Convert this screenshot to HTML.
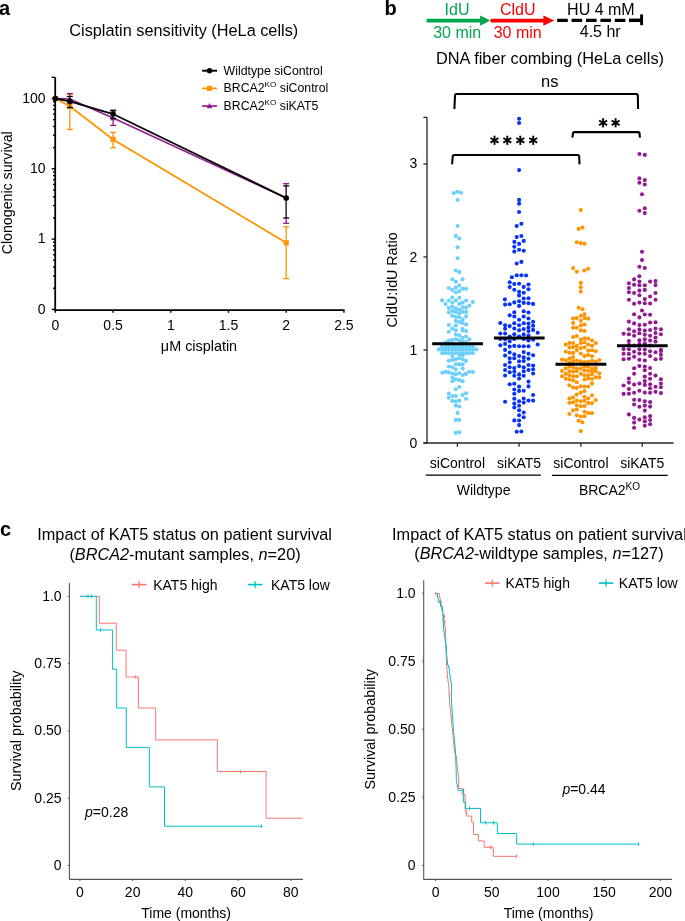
<!DOCTYPE html>
<html><head><meta charset="utf-8"><style>
html,body{margin:0;padding:0;background:#fff;}
svg{display:block;will-change:transform;}
text{font-family:"Liberation Sans",sans-serif;}
</style></head><body>
<svg width="685" height="921" viewBox="0 0 685 921" font-family="Liberation Sans">
<text x="-1.00" y="14.90" font-size="20" text-anchor="start" fill="#000" font-weight="bold" >a</text>
<text x="183.75" y="36.30" font-size="16.3" text-anchor="middle" fill="#000" >Cisplatin sensitivity (HeLa cells)</text>
<line x1="55.20" y1="77.30" x2="55.20" y2="311.10" stroke="#000" stroke-width="1.8" />
<line x1="51.70" y1="77.34" x2="55.20" y2="77.34" stroke="#000" stroke-width="1.4" />
<line x1="51.70" y1="98.50" x2="55.20" y2="98.50" stroke="#000" stroke-width="1.4" />
<line x1="51.70" y1="168.80" x2="55.20" y2="168.80" stroke="#000" stroke-width="1.4" />
<line x1="51.70" y1="239.10" x2="55.20" y2="239.10" stroke="#000" stroke-width="1.4" />
<line x1="51.70" y1="309.40" x2="55.20" y2="309.40" stroke="#000" stroke-width="1.4" />
<line x1="53.00" y1="147.64" x2="55.20" y2="147.64" stroke="#000" stroke-width="1.4" />
<line x1="53.00" y1="135.26" x2="55.20" y2="135.26" stroke="#000" stroke-width="1.4" />
<line x1="53.00" y1="126.48" x2="55.20" y2="126.48" stroke="#000" stroke-width="1.4" />
<line x1="53.00" y1="119.66" x2="55.20" y2="119.66" stroke="#000" stroke-width="1.4" />
<line x1="53.00" y1="114.10" x2="55.20" y2="114.10" stroke="#000" stroke-width="1.4" />
<line x1="53.00" y1="109.39" x2="55.20" y2="109.39" stroke="#000" stroke-width="1.4" />
<line x1="53.00" y1="105.31" x2="55.20" y2="105.31" stroke="#000" stroke-width="1.4" />
<line x1="53.00" y1="101.72" x2="55.20" y2="101.72" stroke="#000" stroke-width="1.4" />
<line x1="53.00" y1="217.94" x2="55.20" y2="217.94" stroke="#000" stroke-width="1.4" />
<line x1="53.00" y1="205.56" x2="55.20" y2="205.56" stroke="#000" stroke-width="1.4" />
<line x1="53.00" y1="196.78" x2="55.20" y2="196.78" stroke="#000" stroke-width="1.4" />
<line x1="53.00" y1="189.96" x2="55.20" y2="189.96" stroke="#000" stroke-width="1.4" />
<line x1="53.00" y1="184.40" x2="55.20" y2="184.40" stroke="#000" stroke-width="1.4" />
<line x1="53.00" y1="179.69" x2="55.20" y2="179.69" stroke="#000" stroke-width="1.4" />
<line x1="53.00" y1="175.61" x2="55.20" y2="175.61" stroke="#000" stroke-width="1.4" />
<line x1="53.00" y1="172.02" x2="55.20" y2="172.02" stroke="#000" stroke-width="1.4" />
<line x1="53.00" y1="288.24" x2="55.20" y2="288.24" stroke="#000" stroke-width="1.4" />
<line x1="53.00" y1="275.86" x2="55.20" y2="275.86" stroke="#000" stroke-width="1.4" />
<line x1="53.00" y1="267.08" x2="55.20" y2="267.08" stroke="#000" stroke-width="1.4" />
<line x1="53.00" y1="260.26" x2="55.20" y2="260.26" stroke="#000" stroke-width="1.4" />
<line x1="53.00" y1="254.70" x2="55.20" y2="254.70" stroke="#000" stroke-width="1.4" />
<line x1="53.00" y1="249.99" x2="55.20" y2="249.99" stroke="#000" stroke-width="1.4" />
<line x1="53.00" y1="245.91" x2="55.20" y2="245.91" stroke="#000" stroke-width="1.4" />
<line x1="53.00" y1="242.32" x2="55.20" y2="242.32" stroke="#000" stroke-width="1.4" />
<text x="45.60" y="102.80" font-size="14" text-anchor="end" fill="#000" >100</text>
<text x="45.60" y="173.10" font-size="14" text-anchor="end" fill="#000" >10</text>
<text x="45.60" y="243.40" font-size="14" text-anchor="end" fill="#000" >1</text>
<text x="45.60" y="313.70" font-size="14" text-anchor="end" fill="#000" >0</text>
<line x1="54.30" y1="310.20" x2="344.60" y2="310.20" stroke="#000" stroke-width="1.8" />
<line x1="55.40" y1="310.20" x2="55.40" y2="312.80" stroke="#000" stroke-width="1.4" />
<text x="55.40" y="329.60" font-size="14" text-anchor="middle" fill="#000" >0</text>
<line x1="113.10" y1="310.20" x2="113.10" y2="312.80" stroke="#000" stroke-width="1.4" />
<text x="113.10" y="329.60" font-size="14" text-anchor="middle" fill="#000" >0.5</text>
<line x1="170.80" y1="310.20" x2="170.80" y2="312.80" stroke="#000" stroke-width="1.4" />
<text x="170.80" y="329.60" font-size="14" text-anchor="middle" fill="#000" >1</text>
<line x1="228.50" y1="310.20" x2="228.50" y2="312.80" stroke="#000" stroke-width="1.4" />
<text x="228.50" y="329.60" font-size="14" text-anchor="middle" fill="#000" >1.5</text>
<line x1="286.20" y1="310.20" x2="286.20" y2="312.80" stroke="#000" stroke-width="1.4" />
<text x="286.20" y="329.60" font-size="14" text-anchor="middle" fill="#000" >2</text>
<line x1="343.90" y1="310.20" x2="343.90" y2="312.80" stroke="#000" stroke-width="1.4" />
<text x="343.90" y="329.60" font-size="14" text-anchor="middle" fill="#000" >2.5</text>
<text x="199.00" y="350.50" font-size="14.4" text-anchor="middle" fill="#000" >μM cisplatin</text>
<text transform="translate(12,192.8) rotate(-90)" font-size="14.2" text-anchor="middle">Clonogenic survival</text>
<line x1="69.83" y1="94.40" x2="69.83" y2="129.40" stroke="#ff9300" stroke-width="1.3" />
<line x1="66.83" y1="94.40" x2="72.83" y2="94.40" stroke="#ff9300" stroke-width="1.3" />
<line x1="66.83" y1="129.40" x2="72.83" y2="129.40" stroke="#ff9300" stroke-width="1.3" />
<line x1="113.10" y1="132.40" x2="113.10" y2="147.70" stroke="#ff9300" stroke-width="1.3" />
<line x1="110.10" y1="132.40" x2="116.10" y2="132.40" stroke="#ff9300" stroke-width="1.3" />
<line x1="110.10" y1="147.70" x2="116.10" y2="147.70" stroke="#ff9300" stroke-width="1.3" />
<line x1="286.20" y1="226.80" x2="286.20" y2="278.60" stroke="#ff9300" stroke-width="1.3" />
<line x1="283.20" y1="226.80" x2="289.20" y2="226.80" stroke="#ff9300" stroke-width="1.3" />
<line x1="283.20" y1="278.60" x2="289.20" y2="278.60" stroke="#ff9300" stroke-width="1.3" />
<path d="M55.40,98.50 L69.83,106.20 L113.10,139.40 L286.20,242.80" stroke="#ff9300" stroke-width="1.75" fill="none" />
<rect x="52.80" y="95.90" width="5.2" height="5.2" fill="#ff9300"/>
<rect x="67.23" y="103.60" width="5.2" height="5.2" fill="#ff9300"/>
<rect x="110.50" y="136.80" width="5.2" height="5.2" fill="#ff9300"/>
<rect x="283.60" y="240.20" width="5.2" height="5.2" fill="#ff9300"/>
<line x1="69.83" y1="93.50" x2="69.83" y2="103.00" stroke="#941a94" stroke-width="1.3" />
<line x1="66.83" y1="93.50" x2="72.83" y2="93.50" stroke="#941a94" stroke-width="1.3" />
<line x1="66.83" y1="103.00" x2="72.83" y2="103.00" stroke="#941a94" stroke-width="1.3" />
<line x1="113.10" y1="111.00" x2="113.10" y2="125.40" stroke="#941a94" stroke-width="1.3" />
<line x1="110.10" y1="111.00" x2="116.10" y2="111.00" stroke="#941a94" stroke-width="1.3" />
<line x1="110.10" y1="125.40" x2="116.10" y2="125.40" stroke="#941a94" stroke-width="1.3" />
<line x1="286.20" y1="183.60" x2="286.20" y2="223.30" stroke="#941a94" stroke-width="1.3" />
<line x1="283.20" y1="183.60" x2="289.20" y2="183.60" stroke="#941a94" stroke-width="1.3" />
<line x1="283.20" y1="223.30" x2="289.20" y2="223.30" stroke="#941a94" stroke-width="1.3" />
<path d="M55.40,98.50 L69.83,99.00 L113.10,118.00 L286.20,198.00" stroke="#941a94" stroke-width="1.6" fill="none" />
<path d="M55.40,95.50 L58.20,100.70 L52.60,100.70Z" fill="#941a94"/>
<path d="M69.83,96.00 L72.62,101.20 L67.03,101.20Z" fill="#941a94"/>
<path d="M113.10,115.00 L115.90,120.20 L110.30,120.20Z" fill="#941a94"/>
<path d="M286.20,195.00 L289.00,200.20 L283.40,200.20Z" fill="#941a94"/>
<line x1="69.83" y1="96.50" x2="69.83" y2="107.60" stroke="#3a3a3a" stroke-width="1.3" />
<line x1="66.83" y1="96.50" x2="72.83" y2="96.50" stroke="#000" stroke-width="1.3" />
<line x1="66.83" y1="107.60" x2="72.83" y2="107.60" stroke="#000" stroke-width="1.3" />
<line x1="113.10" y1="110.20" x2="113.10" y2="118.40" stroke="#3a3a3a" stroke-width="1.3" />
<line x1="110.10" y1="110.20" x2="116.10" y2="110.20" stroke="#000" stroke-width="1.3" />
<line x1="110.10" y1="118.40" x2="116.10" y2="118.40" stroke="#000" stroke-width="1.3" />
<line x1="286.20" y1="185.90" x2="286.20" y2="218.00" stroke="#3a3a3a" stroke-width="1.3" />
<line x1="283.20" y1="185.90" x2="289.20" y2="185.90" stroke="#000" stroke-width="1.3" />
<line x1="283.20" y1="218.00" x2="289.20" y2="218.00" stroke="#000" stroke-width="1.3" />
<path d="M55.40,98.50 L69.83,101.30 L113.10,114.00 L286.20,198.00" stroke="#000" stroke-width="1.85" fill="none" />
<circle cx="55.40" cy="98.50" r="2.75" fill="#000"/>
<circle cx="69.83" cy="101.30" r="2.75" fill="#000"/>
<circle cx="113.10" cy="114.00" r="2.75" fill="#000"/>
<circle cx="286.20" cy="198.00" r="2.75" fill="#000"/>
<line x1="202.10" y1="70.70" x2="217.00" y2="70.70" stroke="#000" stroke-width="2" />
<circle cx="209.50" cy="70.70" r="2.75" fill="#000"/>
<text x="223.60" y="74.60" font-size="12.3" text-anchor="start" fill="#000" >Wildtype siControl</text>
<line x1="202.10" y1="88.35" x2="217.00" y2="88.35" stroke="#ff9300" stroke-width="1.7" />
<rect x="206.90" y="85.75" width="5.2" height="5.2" fill="#ff9300"/>
<text x="223.60" y="92.25" font-size="12.3" text-anchor="start" fill="#000" >BRCA2<tspan font-size="8.1" dy="-4.8">KO</tspan><tspan dy="4.8"> siControl</tspan></text>
<line x1="202.10" y1="106.00" x2="217.00" y2="106.00" stroke="#941a94" stroke-width="1.7" />
<path d="M209.50,103.00 L212.30,108.20 L206.70,108.20Z" fill="#941a94"/>
<text x="223.60" y="109.90" font-size="12.3" text-anchor="start" fill="#000" >BRCA2<tspan font-size="8.1" dy="-4.8">KO</tspan><tspan dy="4.8"> siKAT5</tspan></text>
<text x="384.60" y="14.80" font-size="20" text-anchor="start" fill="#000" font-weight="bold" >b</text>
<line x1="426.60" y1="20.60" x2="481.00" y2="20.60" stroke="#00a650" stroke-width="3.6" />
<path d="M480.1,15.5 L490.4,20.6 L480.1,25.8Z" fill="#00a650"/>
<line x1="490.60" y1="20.60" x2="544.00" y2="20.60" stroke="#ff0000" stroke-width="3.6" />
<path d="M543.4,15.4 L554.3,20.6 L543.4,25.8Z" fill="#ff0000"/>
<line x1="557.20" y1="20.40" x2="641.00" y2="20.40" stroke="#000" stroke-width="3.3" stroke-dasharray="10.6 3.8"/>
<line x1="629.00" y1="20.40" x2="641.00" y2="20.40" stroke="#000" stroke-width="3.3" />
<line x1="641.60" y1="14.40" x2="641.60" y2="25.20" stroke="#000" stroke-width="2.9" />
<text x="457.00" y="15.30" font-size="16" text-anchor="middle" fill="#00a650" >IdU</text>
<text x="457.20" y="37.70" font-size="16" text-anchor="middle" fill="#00a650" >30 min</text>
<text x="517.70" y="15.30" font-size="16" text-anchor="middle" fill="#ff0000" >CldU</text>
<text x="517.70" y="37.70" font-size="16" text-anchor="middle" fill="#ff0000" >30 min</text>
<text x="600.90" y="14.80" font-size="16" text-anchor="middle" fill="#000" >HU 4 mM</text>
<text x="600.20" y="37.40" font-size="16" text-anchor="middle" fill="#000" >4.5 hr</text>
<text x="550.00" y="63.70" font-size="16.35" text-anchor="middle" fill="#000" >DNA fiber combing (HeLa cells)</text>
<line x1="427.00" y1="117.36" x2="427.00" y2="443.10" stroke="#262626" stroke-width="1.3" />
<line x1="423.40" y1="443.00" x2="673.60" y2="443.00" stroke="#262626" stroke-width="1.5" />
<line x1="423.40" y1="443.10" x2="427.00" y2="443.10" stroke="#262626" stroke-width="1.3" />
<line x1="423.40" y1="350.03" x2="427.00" y2="350.03" stroke="#262626" stroke-width="1.3" />
<line x1="423.40" y1="256.96" x2="427.00" y2="256.96" stroke="#262626" stroke-width="1.3" />
<line x1="423.40" y1="163.89" x2="427.00" y2="163.89" stroke="#262626" stroke-width="1.3" />
<line x1="423.40" y1="117.36" x2="427.00" y2="117.36" stroke="#262626" stroke-width="1.3" />
<text x="417.40" y="447.70" font-size="14" text-anchor="end" fill="#000" >0</text>
<text x="417.40" y="354.63" font-size="14" text-anchor="end" fill="#000" >1</text>
<text x="417.40" y="261.56" font-size="14" text-anchor="end" fill="#000" >2</text>
<text x="417.40" y="168.49" font-size="14" text-anchor="end" fill="#000" >3</text>
<line x1="457.40" y1="443.10" x2="457.40" y2="446.80" stroke="#262626" stroke-width="1.3" />
<line x1="519.10" y1="443.10" x2="519.10" y2="446.80" stroke="#262626" stroke-width="1.3" />
<line x1="580.90" y1="443.10" x2="580.90" y2="446.80" stroke="#262626" stroke-width="1.3" />
<line x1="642.20" y1="443.10" x2="642.20" y2="446.80" stroke="#262626" stroke-width="1.3" />
<text x="457.40" y="467.60" font-size="14" text-anchor="middle" fill="#000" >siControl</text>
<text x="519.10" y="467.60" font-size="14" text-anchor="middle" fill="#000" >siKAT5</text>
<text x="580.90" y="467.60" font-size="14" text-anchor="middle" fill="#000" >siControl</text>
<text x="642.20" y="467.60" font-size="14" text-anchor="middle" fill="#000" >siKAT5</text>
<line x1="425.70" y1="475.20" x2="540.90" y2="475.20" stroke="#000" stroke-width="1.3" />
<line x1="551.90" y1="475.30" x2="667.70" y2="475.30" stroke="#000" stroke-width="1.3" />
<text x="483.60" y="495.40" font-size="14" text-anchor="middle" fill="#000" >Wildtype</text>
<text x="609.50" y="495.30" font-size="14" text-anchor="middle" fill="#000" >BRCA2<tspan font-size="10" dy="-5.8">KO</tspan></text>
<text transform="translate(396.6,279.95) rotate(-90)" font-size="14.25" text-anchor="middle">CldU:IdU Ratio</text>
<g fill="#6bcffc"><circle cx="453.8" cy="193.1" r="2.05"/><circle cx="457.6" cy="191.8" r="2.05"/><circle cx="461.1" cy="192.7" r="2.05"/><circle cx="457.6" cy="200.0" r="2.05"/><circle cx="457.6" cy="226.0" r="2.05"/><circle cx="455.8" cy="235.9" r="2.05"/><circle cx="459.3" cy="238.5" r="2.05"/><circle cx="457.6" cy="247.3" r="2.05"/><circle cx="457.6" cy="258.3" r="2.05"/><circle cx="455.8" cy="270.5" r="2.05"/><circle cx="459.3" cy="272.1" r="2.05"/><circle cx="452.3" cy="279.3" r="2.05"/><circle cx="462.6" cy="279.3" r="2.05"/><circle cx="455.8" cy="281.7" r="2.05"/><circle cx="459.3" cy="285.5" r="2.05"/><circle cx="448.8" cy="288.0" r="2.05"/><circle cx="455.8" cy="287.6" r="2.05"/><circle cx="452.3" cy="289.9" r="2.05"/><circle cx="462.6" cy="288.7" r="2.05"/><circle cx="466.1" cy="288.7" r="2.05"/><circle cx="455.8" cy="292.2" r="2.05"/><circle cx="459.3" cy="291.1" r="2.05"/><circle cx="452.3" cy="297.5" r="2.05"/><circle cx="459.3" cy="297.7" r="2.05"/><circle cx="442.1" cy="300.4" r="2.05"/><circle cx="448.8" cy="300.5" r="2.05"/><circle cx="455.8" cy="300.5" r="2.05"/><circle cx="466.1" cy="300.5" r="2.05"/><circle cx="472.9" cy="302.1" r="2.05"/><circle cx="445.6" cy="304.0" r="2.05"/><circle cx="452.3" cy="302.7" r="2.05"/><circle cx="459.3" cy="303.9" r="2.05"/><circle cx="462.6" cy="302.6" r="2.05"/><circle cx="469.4" cy="305.6" r="2.05"/><circle cx="448.8" cy="308.0" r="2.05"/><circle cx="452.3" cy="306.7" r="2.05"/><circle cx="455.8" cy="308.4" r="2.05"/><circle cx="462.6" cy="307.4" r="2.05"/><circle cx="466.1" cy="307.6" r="2.05"/><circle cx="459.3" cy="309.7" r="2.05"/><circle cx="448.8" cy="312.4" r="2.05"/><circle cx="452.3" cy="311.1" r="2.05"/><circle cx="455.8" cy="311.9" r="2.05"/><circle cx="462.6" cy="311.9" r="2.05"/><circle cx="466.1" cy="311.9" r="2.05"/><circle cx="459.3" cy="313.3" r="2.05"/><circle cx="452.3" cy="315.7" r="2.05"/><circle cx="455.8" cy="316.8" r="2.05"/><circle cx="459.3" cy="317.3" r="2.05"/><circle cx="466.1" cy="316.4" r="2.05"/><circle cx="455.8" cy="320.9" r="2.05"/><circle cx="459.3" cy="322.1" r="2.05"/><circle cx="462.6" cy="319.5" r="2.05"/><circle cx="462.6" cy="323.0" r="2.05"/><circle cx="448.8" cy="325.1" r="2.05"/><circle cx="455.8" cy="325.6" r="2.05"/><circle cx="466.1" cy="324.4" r="2.05"/><circle cx="452.3" cy="328.5" r="2.05"/><circle cx="455.8" cy="330.2" r="2.05"/><circle cx="462.6" cy="328.8" r="2.05"/><circle cx="466.1" cy="331.0" r="2.05"/><circle cx="448.8" cy="331.7" r="2.05"/><circle cx="462.6" cy="330.4" r="2.05"/><circle cx="455.8" cy="334.6" r="2.05"/><circle cx="459.3" cy="335.2" r="2.05"/><circle cx="462.6" cy="337.8" r="2.05"/><circle cx="466.1" cy="336.5" r="2.05"/><circle cx="469.4" cy="339.3" r="2.05"/><circle cx="448.8" cy="340.7" r="2.05"/><circle cx="452.3" cy="339.9" r="2.05"/><circle cx="455.8" cy="339.3" r="2.05"/><circle cx="459.3" cy="340.2" r="2.05"/><circle cx="462.6" cy="341.5" r="2.05"/><circle cx="445.6" cy="342.5" r="2.05"/><circle cx="466.1" cy="342.0" r="2.05"/><circle cx="441.8" cy="346.6" r="2.05"/><circle cx="445.3" cy="346.6" r="2.05"/><circle cx="448.8" cy="346.6" r="2.05"/><circle cx="452.3" cy="346.6" r="2.05"/><circle cx="455.8" cy="346.6" r="2.05"/><circle cx="459.3" cy="346.6" r="2.05"/><circle cx="462.6" cy="346.6" r="2.05"/><circle cx="466.1" cy="346.6" r="2.05"/><circle cx="469.4" cy="346.6" r="2.05"/><circle cx="472.9" cy="346.6" r="2.05"/><circle cx="438.8" cy="349.4" r="2.05"/><circle cx="442.3" cy="349.4" r="2.05"/><circle cx="445.6" cy="349.4" r="2.05"/><circle cx="448.8" cy="349.4" r="2.05"/><circle cx="452.3" cy="349.4" r="2.05"/><circle cx="455.8" cy="349.4" r="2.05"/><circle cx="459.3" cy="349.4" r="2.05"/><circle cx="462.6" cy="349.4" r="2.05"/><circle cx="466.1" cy="349.4" r="2.05"/><circle cx="469.4" cy="349.4" r="2.05"/><circle cx="472.9" cy="349.4" r="2.05"/><circle cx="476.4" cy="349.4" r="2.05"/><circle cx="442.1" cy="353.1" r="2.05"/><circle cx="445.6" cy="353.1" r="2.05"/><circle cx="448.8" cy="353.1" r="2.05"/><circle cx="452.3" cy="353.1" r="2.05"/><circle cx="455.8" cy="353.1" r="2.05"/><circle cx="459.3" cy="353.1" r="2.05"/><circle cx="462.6" cy="353.1" r="2.05"/><circle cx="466.1" cy="353.1" r="2.05"/><circle cx="469.4" cy="353.1" r="2.05"/><circle cx="472.9" cy="353.1" r="2.05"/><circle cx="452.4" cy="356.0" r="2.05"/><circle cx="462.7" cy="355.3" r="2.05"/><circle cx="459.2" cy="354.6" r="2.05"/><circle cx="448.8" cy="360.8" r="2.05"/><circle cx="452.4" cy="359.9" r="2.05"/><circle cx="455.7" cy="359.3" r="2.05"/><circle cx="459.2" cy="358.2" r="2.05"/><circle cx="462.7" cy="359.3" r="2.05"/><circle cx="465.9" cy="360.9" r="2.05"/><circle cx="455.7" cy="364.0" r="2.05"/><circle cx="459.2" cy="364.4" r="2.05"/><circle cx="462.7" cy="364.4" r="2.05"/><circle cx="448.8" cy="366.5" r="2.05"/><circle cx="452.4" cy="367.3" r="2.05"/><circle cx="455.7" cy="369.4" r="2.05"/><circle cx="462.7" cy="368.6" r="2.05"/><circle cx="442.2" cy="372.8" r="2.05"/><circle cx="445.5" cy="371.7" r="2.05"/><circle cx="448.8" cy="372.4" r="2.05"/><circle cx="452.4" cy="373.5" r="2.05"/><circle cx="455.7" cy="374.3" r="2.05"/><circle cx="459.2" cy="373.2" r="2.05"/><circle cx="462.7" cy="375.0" r="2.05"/><circle cx="465.9" cy="373.9" r="2.05"/><circle cx="469.2" cy="371.7" r="2.05"/><circle cx="472.9" cy="372.1" r="2.05"/><circle cx="452.4" cy="377.5" r="2.05"/><circle cx="455.7" cy="379.4" r="2.05"/><circle cx="459.2" cy="380.1" r="2.05"/><circle cx="462.7" cy="381.2" r="2.05"/><circle cx="452.4" cy="381.2" r="2.05"/><circle cx="459.3" cy="387.0" r="2.05"/><circle cx="455.8" cy="389.2" r="2.05"/><circle cx="448.8" cy="393.6" r="2.05"/><circle cx="466.1" cy="393.3" r="2.05"/><circle cx="462.6" cy="394.9" r="2.05"/><circle cx="452.3" cy="396.0" r="2.05"/><circle cx="455.8" cy="396.0" r="2.05"/><circle cx="448.8" cy="397.7" r="2.05"/><circle cx="466.1" cy="398.8" r="2.05"/><circle cx="452.3" cy="400.9" r="2.05"/><circle cx="455.8" cy="401.2" r="2.05"/><circle cx="459.3" cy="400.6" r="2.05"/><circle cx="455.8" cy="405.6" r="2.05"/><circle cx="459.3" cy="406.5" r="2.05"/><circle cx="457.6" cy="412.9" r="2.05"/><circle cx="455.8" cy="419.9" r="2.05"/><circle cx="459.3" cy="419.9" r="2.05"/><circle cx="455.8" cy="432.9" r="2.05"/><circle cx="459.4" cy="432.3" r="2.05"/></g>
<g fill="#0532ff"><circle cx="519.1" cy="118.8" r="2.05"/><circle cx="519.1" cy="123.0" r="2.05"/><circle cx="519.1" cy="170.1" r="2.05"/><circle cx="519.1" cy="199.9" r="2.05"/><circle cx="519.1" cy="203.8" r="2.05"/><circle cx="519.1" cy="212.0" r="2.05"/><circle cx="516.7" cy="226.0" r="2.05"/><circle cx="521.4" cy="223.8" r="2.05"/><circle cx="516.7" cy="237.1" r="2.05"/><circle cx="521.4" cy="236.0" r="2.05"/><circle cx="514.4" cy="241.9" r="2.05"/><circle cx="523.7" cy="240.9" r="2.05"/><circle cx="519.1" cy="243.9" r="2.05"/><circle cx="514.3" cy="246.8" r="2.05"/><circle cx="514.3" cy="251.6" r="2.05"/><circle cx="519.1" cy="249.8" r="2.05"/><circle cx="523.7" cy="250.7" r="2.05"/><circle cx="516.7" cy="263.5" r="2.05"/><circle cx="521.4" cy="261.9" r="2.05"/><circle cx="511.9" cy="277.2" r="2.05"/><circle cx="516.7" cy="275.2" r="2.05"/><circle cx="521.4" cy="275.2" r="2.05"/><circle cx="526.1" cy="275.5" r="2.05"/><circle cx="509.7" cy="282.2" r="2.05"/><circle cx="514.3" cy="284.0" r="2.05"/><circle cx="519.1" cy="283.8" r="2.05"/><circle cx="528.5" cy="284.5" r="2.05"/><circle cx="509.7" cy="287.1" r="2.05"/><circle cx="523.7" cy="286.9" r="2.05"/><circle cx="514.3" cy="289.8" r="2.05"/><circle cx="528.5" cy="289.2" r="2.05"/><circle cx="519.1" cy="291.9" r="2.05"/><circle cx="523.7" cy="292.7" r="2.05"/><circle cx="519.1" cy="295.6" r="2.05"/><circle cx="504.9" cy="299.4" r="2.05"/><circle cx="523.7" cy="298.5" r="2.05"/><circle cx="528.5" cy="298.2" r="2.05"/><circle cx="505.1" cy="304.6" r="2.05"/><circle cx="509.7" cy="304.2" r="2.05"/><circle cx="514.3" cy="302.4" r="2.05"/><circle cx="519.1" cy="301.3" r="2.05"/><circle cx="523.7" cy="302.9" r="2.05"/><circle cx="528.5" cy="303.3" r="2.05"/><circle cx="533.1" cy="303.9" r="2.05"/><circle cx="519.1" cy="305.9" r="2.05"/><circle cx="514.3" cy="312.3" r="2.05"/><circle cx="523.7" cy="311.2" r="2.05"/><circle cx="528.5" cy="312.5" r="2.05"/><circle cx="509.7" cy="315.3" r="2.05"/><circle cx="514.3" cy="316.5" r="2.05"/><circle cx="523.7" cy="316.5" r="2.05"/><circle cx="528.5" cy="318.5" r="2.05"/><circle cx="519.1" cy="319.8" r="2.05"/><circle cx="500.3" cy="323.0" r="2.05"/><circle cx="505.1" cy="325.2" r="2.05"/><circle cx="509.7" cy="326.1" r="2.05"/><circle cx="514.3" cy="323.2" r="2.05"/><circle cx="519.1" cy="325.2" r="2.05"/><circle cx="523.7" cy="323.2" r="2.05"/><circle cx="528.5" cy="323.5" r="2.05"/><circle cx="533.1" cy="321.7" r="2.05"/><circle cx="533.1" cy="325.8" r="2.05"/><circle cx="528.5" cy="327.4" r="2.05"/><circle cx="505.1" cy="328.7" r="2.05"/><circle cx="514.3" cy="328.5" r="2.05"/><circle cx="519.1" cy="330.2" r="2.05"/><circle cx="523.7" cy="329.0" r="2.05"/><circle cx="528.5" cy="331.1" r="2.05"/><circle cx="533.1" cy="329.9" r="2.05"/><circle cx="500.3" cy="333.5" r="2.05"/><circle cx="505.1" cy="333.5" r="2.05"/><circle cx="514.3" cy="334.2" r="2.05"/><circle cx="523.7" cy="334.4" r="2.05"/><circle cx="537.7" cy="332.7" r="2.05"/><circle cx="528.5" cy="335.5" r="2.05"/><circle cx="509.7" cy="336.6" r="2.05"/><circle cx="519.1" cy="336.6" r="2.05"/><circle cx="500.3" cy="338.9" r="2.05"/><circle cx="505.1" cy="339.2" r="2.05"/><circle cx="514.3" cy="338.9" r="2.05"/><circle cx="523.7" cy="338.9" r="2.05"/><circle cx="528.5" cy="340.4" r="2.05"/><circle cx="533.1" cy="339.6" r="2.05"/><circle cx="509.7" cy="341.3" r="2.05"/><circle cx="500.3" cy="345.3" r="2.05"/><circle cx="505.1" cy="343.9" r="2.05"/><circle cx="509.7" cy="346.6" r="2.05"/><circle cx="514.3" cy="345.9" r="2.05"/><circle cx="519.1" cy="346.2" r="2.05"/><circle cx="523.7" cy="346.2" r="2.05"/><circle cx="528.5" cy="346.2" r="2.05"/><circle cx="537.7" cy="344.5" r="2.05"/><circle cx="505.1" cy="349.9" r="2.05"/><circle cx="509.7" cy="352.5" r="2.05"/><circle cx="523.7" cy="352.1" r="2.05"/><circle cx="514.3" cy="354.4" r="2.05"/><circle cx="528.5" cy="353.8" r="2.05"/><circle cx="505.1" cy="355.6" r="2.05"/><circle cx="519.1" cy="356.0" r="2.05"/><circle cx="533.1" cy="355.3" r="2.05"/><circle cx="509.7" cy="358.2" r="2.05"/><circle cx="514.3" cy="358.2" r="2.05"/><circle cx="523.7" cy="357.3" r="2.05"/><circle cx="528.5" cy="358.8" r="2.05"/><circle cx="519.1" cy="361.3" r="2.05"/><circle cx="523.7" cy="361.1" r="2.05"/><circle cx="509.7" cy="362.2" r="2.05"/><circle cx="505.1" cy="365.0" r="2.05"/><circle cx="509.7" cy="367.2" r="2.05"/><circle cx="519.1" cy="366.1" r="2.05"/><circle cx="523.7" cy="367.2" r="2.05"/><circle cx="528.5" cy="365.0" r="2.05"/><circle cx="533.1" cy="365.5" r="2.05"/><circle cx="514.3" cy="368.1" r="2.05"/><circle cx="505.1" cy="370.0" r="2.05"/><circle cx="509.7" cy="372.2" r="2.05"/><circle cx="514.3" cy="371.8" r="2.05"/><circle cx="523.7" cy="371.3" r="2.05"/><circle cx="528.5" cy="370.0" r="2.05"/><circle cx="533.1" cy="369.3" r="2.05"/><circle cx="533.1" cy="373.5" r="2.05"/><circle cx="505.1" cy="375.5" r="2.05"/><circle cx="514.3" cy="375.7" r="2.05"/><circle cx="519.1" cy="374.4" r="2.05"/><circle cx="523.7" cy="375.7" r="2.05"/><circle cx="519.1" cy="378.6" r="2.05"/><circle cx="528.5" cy="381.6" r="2.05"/><circle cx="509.7" cy="384.2" r="2.05"/><circle cx="514.3" cy="383.8" r="2.05"/><circle cx="519.1" cy="386.6" r="2.05"/><circle cx="528.5" cy="386.4" r="2.05"/><circle cx="514.3" cy="389.5" r="2.05"/><circle cx="519.1" cy="390.9" r="2.05"/><circle cx="523.7" cy="390.8" r="2.05"/><circle cx="514.3" cy="393.7" r="2.05"/><circle cx="533.1" cy="395.0" r="2.05"/><circle cx="514.3" cy="398.8" r="2.05"/><circle cx="523.7" cy="398.5" r="2.05"/><circle cx="505.1" cy="401.7" r="2.05"/><circle cx="519.1" cy="401.3" r="2.05"/><circle cx="523.7" cy="402.6" r="2.05"/><circle cx="528.5" cy="400.6" r="2.05"/><circle cx="533.1" cy="400.6" r="2.05"/><circle cx="514.3" cy="403.5" r="2.05"/><circle cx="519.1" cy="405.8" r="2.05"/><circle cx="514.3" cy="407.4" r="2.05"/><circle cx="519.1" cy="410.2" r="2.05"/><circle cx="523.7" cy="412.5" r="2.05"/><circle cx="519.1" cy="415.3" r="2.05"/><circle cx="523.7" cy="417.2" r="2.05"/><circle cx="514.3" cy="420.4" r="2.05"/><circle cx="519.1" cy="420.5" r="2.05"/><circle cx="519.1" cy="425.1" r="2.05"/><circle cx="516.7" cy="431.8" r="2.05"/><circle cx="521.4" cy="431.5" r="2.05"/></g>
<g fill="#ff9300"><circle cx="580.8" cy="210.1" r="2.05"/><circle cx="578.6" cy="228.9" r="2.05"/><circle cx="582.5" cy="227.6" r="2.05"/><circle cx="576.8" cy="242.2" r="2.05"/><circle cx="580.8" cy="243.1" r="2.05"/><circle cx="584.5" cy="243.8" r="2.05"/><circle cx="573.1" cy="268.1" r="2.05"/><circle cx="576.8" cy="271.6" r="2.05"/><circle cx="584.3" cy="270.5" r="2.05"/><circle cx="588.2" cy="268.8" r="2.05"/><circle cx="580.8" cy="282.9" r="2.05"/><circle cx="580.8" cy="287.3" r="2.05"/><circle cx="580.8" cy="291.6" r="2.05"/><circle cx="578.6" cy="307.8" r="2.05"/><circle cx="582.5" cy="309.2" r="2.05"/><circle cx="584.5" cy="314.4" r="2.05"/><circle cx="580.8" cy="315.7" r="2.05"/><circle cx="573.1" cy="318.6" r="2.05"/><circle cx="576.8" cy="318.1" r="2.05"/><circle cx="584.5" cy="318.1" r="2.05"/><circle cx="588.2" cy="318.6" r="2.05"/><circle cx="580.8" cy="320.7" r="2.05"/><circle cx="573.1" cy="323.0" r="2.05"/><circle cx="580.8" cy="325.4" r="2.05"/><circle cx="584.5" cy="324.5" r="2.05"/><circle cx="573.1" cy="327.7" r="2.05"/><circle cx="576.8" cy="327.7" r="2.05"/><circle cx="580.8" cy="330.4" r="2.05"/><circle cx="584.5" cy="330.9" r="2.05"/><circle cx="573.1" cy="337.0" r="2.05"/><circle cx="576.8" cy="336.1" r="2.05"/><circle cx="580.8" cy="339.5" r="2.05"/><circle cx="584.5" cy="338.3" r="2.05"/><circle cx="588.2" cy="338.6" r="2.05"/><circle cx="592.0" cy="340.5" r="2.05"/><circle cx="565.7" cy="344.5" r="2.05"/><circle cx="569.4" cy="343.0" r="2.05"/><circle cx="573.1" cy="343.0" r="2.05"/><circle cx="580.8" cy="343.1" r="2.05"/><circle cx="584.5" cy="342.3" r="2.05"/><circle cx="595.7" cy="343.0" r="2.05"/><circle cx="569.4" cy="347.5" r="2.05"/><circle cx="573.1" cy="347.1" r="2.05"/><circle cx="576.8" cy="345.9" r="2.05"/><circle cx="580.8" cy="348.0" r="2.05"/><circle cx="584.5" cy="347.3" r="2.05"/><circle cx="588.2" cy="344.5" r="2.05"/><circle cx="592.0" cy="345.8" r="2.05"/><circle cx="565.7" cy="351.5" r="2.05"/><circle cx="569.4" cy="352.8" r="2.05"/><circle cx="573.1" cy="352.9" r="2.05"/><circle cx="576.8" cy="350.1" r="2.05"/><circle cx="588.2" cy="350.6" r="2.05"/><circle cx="592.0" cy="350.3" r="2.05"/><circle cx="595.7" cy="351.2" r="2.05"/><circle cx="580.8" cy="353.5" r="2.05"/><circle cx="584.5" cy="356.1" r="2.05"/><circle cx="588.2" cy="355.0" r="2.05"/><circle cx="592.0" cy="356.3" r="2.05"/><circle cx="573.1" cy="357.2" r="2.05"/><circle cx="562.0" cy="359.6" r="2.05"/><circle cx="565.7" cy="360.2" r="2.05"/><circle cx="569.4" cy="358.5" r="2.05"/><circle cx="599.3" cy="360.0" r="2.05"/><circle cx="573.1" cy="361.1" r="2.05"/><circle cx="576.8" cy="360.7" r="2.05"/><circle cx="580.8" cy="361.4" r="2.05"/><circle cx="592.0" cy="360.8" r="2.05"/><circle cx="595.7" cy="361.5" r="2.05"/><circle cx="584.5" cy="362.0" r="2.05"/><circle cx="588.2" cy="361.8" r="2.05"/><circle cx="569.4" cy="362.5" r="2.05"/><circle cx="565.7" cy="368.3" r="2.05"/><circle cx="573.1" cy="367.2" r="2.05"/><circle cx="576.8" cy="368.5" r="2.05"/><circle cx="580.8" cy="368.5" r="2.05"/><circle cx="592.0" cy="368.5" r="2.05"/><circle cx="595.7" cy="368.1" r="2.05"/><circle cx="569.4" cy="366.8" r="2.05"/><circle cx="584.5" cy="366.5" r="2.05"/><circle cx="588.2" cy="366.8" r="2.05"/><circle cx="562.0" cy="371.0" r="2.05"/><circle cx="569.4" cy="371.3" r="2.05"/><circle cx="573.1" cy="371.6" r="2.05"/><circle cx="576.8" cy="371.0" r="2.05"/><circle cx="584.5" cy="370.4" r="2.05"/><circle cx="588.2" cy="370.7" r="2.05"/><circle cx="595.7" cy="371.3" r="2.05"/><circle cx="599.3" cy="373.3" r="2.05"/><circle cx="592.0" cy="371.2" r="2.05"/><circle cx="565.7" cy="373.8" r="2.05"/><circle cx="569.4" cy="375.3" r="2.05"/><circle cx="573.1" cy="376.2" r="2.05"/><circle cx="576.8" cy="376.2" r="2.05"/><circle cx="580.8" cy="373.8" r="2.05"/><circle cx="584.5" cy="375.3" r="2.05"/><circle cx="588.2" cy="375.3" r="2.05"/><circle cx="592.0" cy="374.2" r="2.05"/><circle cx="562.0" cy="376.2" r="2.05"/><circle cx="565.7" cy="378.6" r="2.05"/><circle cx="569.4" cy="379.5" r="2.05"/><circle cx="573.1" cy="380.3" r="2.05"/><circle cx="584.5" cy="379.5" r="2.05"/><circle cx="588.2" cy="378.6" r="2.05"/><circle cx="592.0" cy="379.0" r="2.05"/><circle cx="595.7" cy="377.3" r="2.05"/><circle cx="599.3" cy="377.4" r="2.05"/><circle cx="576.8" cy="382.3" r="2.05"/><circle cx="592.0" cy="383.6" r="2.05"/><circle cx="569.4" cy="385.3" r="2.05"/><circle cx="573.1" cy="387.6" r="2.05"/><circle cx="576.8" cy="387.9" r="2.05"/><circle cx="580.8" cy="386.2" r="2.05"/><circle cx="584.5" cy="386.5" r="2.05"/><circle cx="588.2" cy="386.5" r="2.05"/><circle cx="584.5" cy="391.1" r="2.05"/><circle cx="580.8" cy="392.6" r="2.05"/><circle cx="576.8" cy="394.6" r="2.05"/><circle cx="592.0" cy="395.2" r="2.05"/><circle cx="569.4" cy="398.5" r="2.05"/><circle cx="573.1" cy="397.4" r="2.05"/><circle cx="584.5" cy="396.7" r="2.05"/><circle cx="588.2" cy="398.5" r="2.05"/><circle cx="595.7" cy="400.0" r="2.05"/><circle cx="569.4" cy="402.8" r="2.05"/><circle cx="573.1" cy="402.2" r="2.05"/><circle cx="576.8" cy="400.5" r="2.05"/><circle cx="580.8" cy="401.3" r="2.05"/><circle cx="584.5" cy="400.7" r="2.05"/><circle cx="588.2" cy="403.1" r="2.05"/><circle cx="592.0" cy="403.1" r="2.05"/><circle cx="576.8" cy="405.3" r="2.05"/><circle cx="580.8" cy="406.2" r="2.05"/><circle cx="584.5" cy="406.0" r="2.05"/><circle cx="573.1" cy="410.2" r="2.05"/><circle cx="576.8" cy="409.5" r="2.05"/><circle cx="569.4" cy="414.0" r="2.05"/><circle cx="584.5" cy="411.8" r="2.05"/><circle cx="588.2" cy="413.0" r="2.05"/><circle cx="592.0" cy="413.1" r="2.05"/><circle cx="576.8" cy="415.3" r="2.05"/><circle cx="580.8" cy="416.5" r="2.05"/><circle cx="584.5" cy="416.2" r="2.05"/><circle cx="578.6" cy="420.8" r="2.05"/><circle cx="582.4" cy="422.3" r="2.05"/><circle cx="580.8" cy="431.1" r="2.05"/></g>
<g fill="#941a94"><circle cx="639.4" cy="154.0" r="2.05"/><circle cx="644.8" cy="154.9" r="2.05"/><circle cx="639.4" cy="178.4" r="2.05"/><circle cx="644.8" cy="180.1" r="2.05"/><circle cx="639.4" cy="182.7" r="2.05"/><circle cx="644.8" cy="184.5" r="2.05"/><circle cx="642.0" cy="194.3" r="2.05"/><circle cx="639.4" cy="210.8" r="2.05"/><circle cx="644.8" cy="208.3" r="2.05"/><circle cx="644.8" cy="213.1" r="2.05"/><circle cx="642.0" cy="251.8" r="2.05"/><circle cx="642.0" cy="260.1" r="2.05"/><circle cx="639.4" cy="266.7" r="2.05"/><circle cx="644.8" cy="268.0" r="2.05"/><circle cx="639.4" cy="276.3" r="2.05"/><circle cx="634.1" cy="279.4" r="2.05"/><circle cx="639.4" cy="281.6" r="2.05"/><circle cx="650.1" cy="281.6" r="2.05"/><circle cx="655.5" cy="281.1" r="2.05"/><circle cx="628.9" cy="283.3" r="2.05"/><circle cx="634.1" cy="284.8" r="2.05"/><circle cx="639.4" cy="285.3" r="2.05"/><circle cx="644.8" cy="285.3" r="2.05"/><circle cx="655.5" cy="285.1" r="2.05"/><circle cx="628.9" cy="288.0" r="2.05"/><circle cx="639.4" cy="290.6" r="2.05"/><circle cx="644.8" cy="289.9" r="2.05"/><circle cx="628.9" cy="292.3" r="2.05"/><circle cx="634.1" cy="293.0" r="2.05"/><circle cx="655.5" cy="293.0" r="2.05"/><circle cx="639.4" cy="295.3" r="2.05"/><circle cx="650.1" cy="296.5" r="2.05"/><circle cx="628.9" cy="299.7" r="2.05"/><circle cx="644.8" cy="299.1" r="2.05"/><circle cx="655.5" cy="299.7" r="2.05"/><circle cx="634.1" cy="303.7" r="2.05"/><circle cx="639.4" cy="302.6" r="2.05"/><circle cx="644.8" cy="303.2" r="2.05"/><circle cx="650.1" cy="303.5" r="2.05"/><circle cx="642.0" cy="310.5" r="2.05"/><circle cx="634.1" cy="314.2" r="2.05"/><circle cx="644.8" cy="314.5" r="2.05"/><circle cx="650.1" cy="314.8" r="2.05"/><circle cx="639.4" cy="317.4" r="2.05"/><circle cx="628.9" cy="321.6" r="2.05"/><circle cx="634.1" cy="323.4" r="2.05"/><circle cx="639.4" cy="325.1" r="2.05"/><circle cx="644.8" cy="324.7" r="2.05"/><circle cx="650.1" cy="322.5" r="2.05"/><circle cx="655.5" cy="322.3" r="2.05"/><circle cx="628.9" cy="329.3" r="2.05"/><circle cx="634.1" cy="331.3" r="2.05"/><circle cx="639.4" cy="329.5" r="2.05"/><circle cx="644.8" cy="330.6" r="2.05"/><circle cx="650.1" cy="330.0" r="2.05"/><circle cx="655.5" cy="328.6" r="2.05"/><circle cx="660.9" cy="329.3" r="2.05"/><circle cx="623.6" cy="333.7" r="2.05"/><circle cx="628.9" cy="334.3" r="2.05"/><circle cx="634.1" cy="335.7" r="2.05"/><circle cx="639.4" cy="333.2" r="2.05"/><circle cx="644.8" cy="334.8" r="2.05"/><circle cx="650.1" cy="335.8" r="2.05"/><circle cx="655.5" cy="333.0" r="2.05"/><circle cx="660.9" cy="334.3" r="2.05"/><circle cx="655.5" cy="337.6" r="2.05"/><circle cx="628.9" cy="341.1" r="2.05"/><circle cx="639.4" cy="340.2" r="2.05"/><circle cx="644.8" cy="339.3" r="2.05"/><circle cx="650.1" cy="340.5" r="2.05"/><circle cx="655.5" cy="341.6" r="2.05"/><circle cx="639.4" cy="344.0" r="2.05"/><circle cx="644.8" cy="343.4" r="2.05"/><circle cx="628.9" cy="344.9" r="2.05"/><circle cx="634.1" cy="345.5" r="2.05"/><circle cx="650.1" cy="345.5" r="2.05"/><circle cx="623.6" cy="349.1" r="2.05"/><circle cx="628.9" cy="349.3" r="2.05"/><circle cx="639.4" cy="349.3" r="2.05"/><circle cx="644.8" cy="349.6" r="2.05"/><circle cx="660.9" cy="349.7" r="2.05"/><circle cx="634.1" cy="351.8" r="2.05"/><circle cx="650.1" cy="351.3" r="2.05"/><circle cx="655.5" cy="352.2" r="2.05"/><circle cx="660.9" cy="351.1" r="2.05"/><circle cx="623.6" cy="353.7" r="2.05"/><circle cx="628.9" cy="353.9" r="2.05"/><circle cx="639.4" cy="353.5" r="2.05"/><circle cx="644.8" cy="353.7" r="2.05"/><circle cx="660.9" cy="354.8" r="2.05"/><circle cx="650.1" cy="356.1" r="2.05"/><circle cx="634.1" cy="356.8" r="2.05"/><circle cx="660.9" cy="358.8" r="2.05"/><circle cx="623.6" cy="359.2" r="2.05"/><circle cx="628.9" cy="358.8" r="2.05"/><circle cx="655.5" cy="359.2" r="2.05"/><circle cx="639.4" cy="359.8" r="2.05"/><circle cx="644.8" cy="360.5" r="2.05"/><circle cx="639.4" cy="366.0" r="2.05"/><circle cx="634.1" cy="368.2" r="2.05"/><circle cx="644.8" cy="366.5" r="2.05"/><circle cx="650.1" cy="368.0" r="2.05"/><circle cx="644.8" cy="370.3" r="2.05"/><circle cx="634.1" cy="373.7" r="2.05"/><circle cx="650.1" cy="373.8" r="2.05"/><circle cx="655.5" cy="375.6" r="2.05"/><circle cx="644.8" cy="376.5" r="2.05"/><circle cx="628.9" cy="378.5" r="2.05"/><circle cx="650.1" cy="378.7" r="2.05"/><circle cx="660.9" cy="379.3" r="2.05"/><circle cx="644.8" cy="381.1" r="2.05"/><circle cx="628.9" cy="382.6" r="2.05"/><circle cx="639.4" cy="383.5" r="2.05"/><circle cx="634.1" cy="384.6" r="2.05"/><circle cx="644.8" cy="384.9" r="2.05"/><circle cx="650.1" cy="384.2" r="2.05"/><circle cx="660.9" cy="383.5" r="2.05"/><circle cx="623.6" cy="385.5" r="2.05"/><circle cx="655.5" cy="386.8" r="2.05"/><circle cx="660.9" cy="387.2" r="2.05"/><circle cx="650.1" cy="388.3" r="2.05"/><circle cx="628.9" cy="389.0" r="2.05"/><circle cx="639.4" cy="390.7" r="2.05"/><circle cx="623.6" cy="393.9" r="2.05"/><circle cx="628.9" cy="393.7" r="2.05"/><circle cx="634.1" cy="392.8" r="2.05"/><circle cx="644.8" cy="392.6" r="2.05"/><circle cx="650.1" cy="392.8" r="2.05"/><circle cx="655.5" cy="391.8" r="2.05"/><circle cx="660.9" cy="393.1" r="2.05"/><circle cx="634.1" cy="399.8" r="2.05"/><circle cx="639.4" cy="400.1" r="2.05"/><circle cx="644.8" cy="401.2" r="2.05"/><circle cx="650.1" cy="402.1" r="2.05"/><circle cx="634.1" cy="404.5" r="2.05"/><circle cx="639.4" cy="406.8" r="2.05"/><circle cx="644.8" cy="405.6" r="2.05"/><circle cx="650.1" cy="406.6" r="2.05"/><circle cx="644.8" cy="410.6" r="2.05"/><circle cx="628.9" cy="414.4" r="2.05"/><circle cx="634.1" cy="417.9" r="2.05"/><circle cx="639.4" cy="419.6" r="2.05"/><circle cx="644.8" cy="417.3" r="2.05"/><circle cx="650.1" cy="416.1" r="2.05"/><circle cx="644.8" cy="421.4" r="2.05"/><circle cx="650.1" cy="420.0" r="2.05"/><circle cx="634.1" cy="422.6" r="2.05"/><circle cx="644.8" cy="425.7" r="2.05"/><circle cx="650.1" cy="424.3" r="2.05"/><circle cx="634.1" cy="427.8" r="2.05"/></g>
<line x1="432.20" y1="343.70" x2="482.90" y2="343.70" stroke="#000" stroke-width="3.0" />
<line x1="493.90" y1="338.00" x2="544.60" y2="338.00" stroke="#000" stroke-width="3.0" />
<line x1="555.50" y1="364.30" x2="606.30" y2="364.30" stroke="#000" stroke-width="3.0" />
<line x1="617.00" y1="345.70" x2="667.70" y2="345.70" stroke="#000" stroke-width="3.0" />
<path d="M454.40,109.00 L455.00,95.80 Q455.00,94.00 456.80,94.00 L636.00,94.00 Q637.80,94.00 637.80,95.80 L638.10,109.00" stroke="#000" stroke-width="2.05" fill="none" stroke-linejoin="round"/>
<path d="M452.10,164.40 L452.70,156.80 Q452.70,155.00 454.50,155.00 L577.40,155.00 Q579.20,155.00 579.20,156.80 L579.50,164.40" stroke="#000" stroke-width="2.05" fill="none" stroke-linejoin="round"/>
<path d="M572.30,137.60 L572.90,133.90 Q572.90,132.10 574.70,132.10 L637.80,132.10 Q639.60,132.10 639.60,133.90 L639.90,137.60" stroke="#000" stroke-width="2.05" fill="none" stroke-linejoin="round"/>
<text x="549.70" y="87.00" font-size="16.5" text-anchor="middle" fill="#000" >ns</text>
<line x1="494.50" y1="135.70" x2="494.50" y2="144.90" stroke="#000" stroke-width="1.9" />
<line x1="490.52" y1="138.00" x2="498.48" y2="142.60" stroke="#000" stroke-width="1.9" />
<line x1="498.48" y1="138.00" x2="490.52" y2="142.60" stroke="#000" stroke-width="1.9" />
<line x1="507.30" y1="135.70" x2="507.30" y2="144.90" stroke="#000" stroke-width="1.9" />
<line x1="503.32" y1="138.00" x2="511.28" y2="142.60" stroke="#000" stroke-width="1.9" />
<line x1="511.28" y1="138.00" x2="503.32" y2="142.60" stroke="#000" stroke-width="1.9" />
<line x1="520.30" y1="135.70" x2="520.30" y2="144.90" stroke="#000" stroke-width="1.9" />
<line x1="516.32" y1="138.00" x2="524.28" y2="142.60" stroke="#000" stroke-width="1.9" />
<line x1="524.28" y1="138.00" x2="516.32" y2="142.60" stroke="#000" stroke-width="1.9" />
<line x1="533.20" y1="135.70" x2="533.20" y2="144.90" stroke="#000" stroke-width="1.9" />
<line x1="529.22" y1="138.00" x2="537.18" y2="142.60" stroke="#000" stroke-width="1.9" />
<line x1="537.18" y1="138.00" x2="529.22" y2="142.60" stroke="#000" stroke-width="1.9" />
<line x1="603.10" y1="118.20" x2="603.10" y2="127.40" stroke="#000" stroke-width="1.9" />
<line x1="599.12" y1="120.50" x2="607.08" y2="125.10" stroke="#000" stroke-width="1.9" />
<line x1="607.08" y1="120.50" x2="599.12" y2="125.10" stroke="#000" stroke-width="1.9" />
<line x1="615.60" y1="118.20" x2="615.60" y2="127.40" stroke="#000" stroke-width="1.9" />
<line x1="611.62" y1="120.50" x2="619.58" y2="125.10" stroke="#000" stroke-width="1.9" />
<line x1="619.58" y1="120.50" x2="611.62" y2="125.10" stroke="#000" stroke-width="1.9" />
<text x="0.00" y="535.70" font-size="20" text-anchor="start" fill="#000" font-weight="bold" >c</text>
<line x1="69.40" y1="583.00" x2="69.40" y2="879.40" stroke="#555555" stroke-width="1.1" />
<line x1="69.40" y1="879.40" x2="303.00" y2="879.40" stroke="#555555" stroke-width="1.1" />
<line x1="67.80" y1="596.50" x2="69.40" y2="596.50" stroke="#555555" stroke-width="1.0" />
<text x="61.60" y="601.00" font-size="14" text-anchor="end" fill="#000" >1.0</text>
<line x1="67.80" y1="663.73" x2="69.40" y2="663.73" stroke="#555555" stroke-width="1.0" />
<text x="61.60" y="668.23" font-size="14" text-anchor="end" fill="#000" >0.75</text>
<line x1="67.80" y1="730.95" x2="69.40" y2="730.95" stroke="#555555" stroke-width="1.0" />
<text x="61.60" y="735.45" font-size="14" text-anchor="end" fill="#000" >0.50</text>
<line x1="67.80" y1="798.17" x2="69.40" y2="798.17" stroke="#555555" stroke-width="1.0" />
<text x="61.60" y="802.67" font-size="14" text-anchor="end" fill="#000" >0.25</text>
<line x1="67.80" y1="865.40" x2="69.40" y2="865.40" stroke="#555555" stroke-width="1.0" />
<text x="61.60" y="869.90" font-size="14" text-anchor="end" fill="#000" >0</text>
<line x1="79.90" y1="879.40" x2="79.90" y2="881.00" stroke="#555555" stroke-width="1.0" />
<text x="79.90" y="896.70" font-size="14" text-anchor="middle" fill="#000" >0</text>
<line x1="132.64" y1="879.40" x2="132.64" y2="881.00" stroke="#555555" stroke-width="1.0" />
<text x="132.64" y="896.70" font-size="14" text-anchor="middle" fill="#000" >20</text>
<line x1="185.38" y1="879.40" x2="185.38" y2="881.00" stroke="#555555" stroke-width="1.0" />
<text x="185.38" y="896.70" font-size="14" text-anchor="middle" fill="#000" >40</text>
<line x1="238.12" y1="879.40" x2="238.12" y2="881.00" stroke="#555555" stroke-width="1.0" />
<text x="238.12" y="896.70" font-size="14" text-anchor="middle" fill="#000" >60</text>
<line x1="290.86" y1="879.40" x2="290.86" y2="881.00" stroke="#555555" stroke-width="1.0" />
<text x="290.86" y="896.70" font-size="14" text-anchor="middle" fill="#000" >80</text>
<text x="186.10" y="917.70" font-size="14" text-anchor="middle" fill="#000" >Time (months)</text>
<text transform="translate(20.6,730.8) rotate(-90)" font-size="14.35" text-anchor="middle">Survival probability</text>
<text x="184.65" y="539.80" font-size="16.3" text-anchor="middle" fill="#000" >Impact of KAT5 status on patient survival</text>
<text x="185.00" y="559.70" font-size="16.3" text-anchor="middle" fill="#000" >(<tspan font-style="italic">BRCA2</tspan>-mutant samples, <tspan font-style="italic">n</tspan>=20)</text>
<line x1="131.60" y1="584.60" x2="146.60" y2="584.60" stroke="#F8766D" stroke-width="1.6" />
<line x1="139.10" y1="581.00" x2="139.10" y2="588.20" stroke="#F8766D" stroke-width="1.2" />
<text x="153.20" y="589.70" font-size="14" text-anchor="start" fill="#000" >KAT5 high</text>
<line x1="247.80" y1="584.60" x2="262.40" y2="584.60" stroke="#00BFC4" stroke-width="1.6" />
<line x1="255.10" y1="581.00" x2="255.10" y2="588.20" stroke="#00BFC4" stroke-width="1.2" />
<text x="271.00" y="589.70" font-size="14" text-anchor="start" fill="#000" >KAT5 low</text>
<text x="85.00" y="817.40" font-size="14" text-anchor="start" fill="#000" ><tspan font-style="italic">p</tspan>=0.28</text>
<path d="M79.90,596.40 L99.30,596.40 L99.30,623.20 L116.30,623.20 L116.30,650.20 L126.10,650.20 L126.10,677.00 L138.40,677.00 L138.40,708.00 L155.70,708.00 L155.70,739.90 L217.30,739.90 L217.30,771.50 L266.10,771.50 L266.10,818.20 L302.50,818.20" stroke="#F8766D" stroke-width="1.0" fill="none" stroke-linejoin="miter"/>
<path d="M79.90,596.40 L96.30,596.40 L96.30,630.00 L112.60,630.00 L112.60,669.30 L116.70,669.30 L116.70,708.00 L126.30,708.00 L126.30,747.40 L149.40,747.40 L149.40,786.90 L164.50,786.90 L164.50,826.20 L261.40,826.20" stroke="#00BFC4" stroke-width="1.0" fill="none" stroke-linejoin="miter"/>
<line x1="135.70" y1="675.20" x2="135.70" y2="678.80" stroke="#F8766D" stroke-width="1.0" />
<line x1="240.40" y1="769.70" x2="240.40" y2="773.30" stroke="#F8766D" stroke-width="1.0" />
<line x1="88.00" y1="594.60" x2="88.00" y2="598.20" stroke="#00BFC4" stroke-width="1.0" />
<line x1="91.40" y1="594.60" x2="91.40" y2="598.20" stroke="#00BFC4" stroke-width="1.0" />
<line x1="100.70" y1="628.20" x2="100.70" y2="631.80" stroke="#00BFC4" stroke-width="1.0" />
<line x1="261.40" y1="824.40" x2="261.40" y2="828.00" stroke="#00BFC4" stroke-width="1.0" />
<line x1="423.70" y1="580.30" x2="423.70" y2="879.40" stroke="#555555" stroke-width="1.1" />
<line x1="423.70" y1="879.40" x2="672.00" y2="879.40" stroke="#555555" stroke-width="1.1" />
<line x1="422.10" y1="593.20" x2="423.70" y2="593.20" stroke="#555555" stroke-width="1.0" />
<text x="415.60" y="598.20" font-size="14" text-anchor="end" fill="#000" >1.0</text>
<line x1="422.10" y1="661.25" x2="423.70" y2="661.25" stroke="#555555" stroke-width="1.0" />
<text x="415.60" y="666.25" font-size="14" text-anchor="end" fill="#000" >0.75</text>
<line x1="422.10" y1="729.30" x2="423.70" y2="729.30" stroke="#555555" stroke-width="1.0" />
<text x="415.60" y="734.30" font-size="14" text-anchor="end" fill="#000" >0.50</text>
<line x1="422.10" y1="797.35" x2="423.70" y2="797.35" stroke="#555555" stroke-width="1.0" />
<text x="415.60" y="802.35" font-size="14" text-anchor="end" fill="#000" >0.25</text>
<line x1="422.10" y1="865.40" x2="423.70" y2="865.40" stroke="#555555" stroke-width="1.0" />
<text x="415.60" y="870.40" font-size="14" text-anchor="end" fill="#000" >0</text>
<line x1="435.60" y1="879.40" x2="435.60" y2="881.00" stroke="#555555" stroke-width="1.0" />
<text x="435.60" y="896.70" font-size="14" text-anchor="middle" fill="#000" >0</text>
<line x1="491.80" y1="879.40" x2="491.80" y2="881.00" stroke="#555555" stroke-width="1.0" />
<text x="491.80" y="896.70" font-size="14" text-anchor="middle" fill="#000" >50</text>
<line x1="548.00" y1="879.40" x2="548.00" y2="881.00" stroke="#555555" stroke-width="1.0" />
<text x="548.00" y="896.70" font-size="14" text-anchor="middle" fill="#000" >100</text>
<line x1="604.20" y1="879.40" x2="604.20" y2="881.00" stroke="#555555" stroke-width="1.0" />
<text x="604.20" y="896.70" font-size="14" text-anchor="middle" fill="#000" >150</text>
<line x1="660.40" y1="879.40" x2="660.40" y2="881.00" stroke="#555555" stroke-width="1.0" />
<text x="660.40" y="896.70" font-size="14" text-anchor="middle" fill="#000" >200</text>
<text x="548.50" y="917.70" font-size="14" text-anchor="middle" fill="#000" >Time (months)</text>
<text transform="translate(374.7,729.3) rotate(-90)" font-size="14.35" text-anchor="middle">Survival probability</text>
<text x="539.45" y="539.90" font-size="16.3" text-anchor="middle" fill="#000" >Impact of KAT5 status on patient survival</text>
<text x="538.90" y="558.60" font-size="16.3" text-anchor="middle" fill="#000" >(<tspan font-style="italic">BRCA2</tspan>-wildtype samples, <tspan font-style="italic">n</tspan>=127)</text>
<line x1="484.90" y1="583.10" x2="499.60" y2="583.10" stroke="#F8766D" stroke-width="1.6" />
<line x1="492.25" y1="579.50" x2="492.25" y2="586.70" stroke="#F8766D" stroke-width="1.2" />
<text x="505.60" y="588.00" font-size="14" text-anchor="start" fill="#000" >KAT5 high</text>
<line x1="598.90" y1="583.10" x2="613.30" y2="583.10" stroke="#00BFC4" stroke-width="1.6" />
<line x1="606.10" y1="579.50" x2="606.10" y2="586.70" stroke="#00BFC4" stroke-width="1.2" />
<text x="618.80" y="588.00" font-size="14" text-anchor="start" fill="#000" >KAT5 low</text>
<text x="562.40" y="793.90" font-size="14" text-anchor="start" fill="#000" ><tspan font-style="italic">p</tspan>=0.44</text>
<path d="M435.60,593.50 L439.40,593.50 L439.40,596.83 L440.05,596.83 L440.05,596.83 L440.05,600.15 L440.70,600.15 L440.70,600.15 L440.70,603.47 L441.35,603.47 L441.35,603.47 L441.35,606.80 L442.00,606.80 L442.00,606.80 L442.00,610.03 L442.47,610.03 L442.47,610.03 L442.47,613.27 L442.93,613.27 L442.93,613.27 L442.93,616.50 L443.40,616.50 L443.40,616.50 L443.40,619.38 L443.92,619.38 L443.92,619.38 L443.92,622.25 L444.45,622.25 L444.45,622.25 L444.45,625.12 L444.98,625.12 L444.98,625.12 L444.98,628.00 L445.50,628.00 L445.50,628.00 L445.50,631.09 L445.59,631.09 L445.59,631.09 L445.59,634.18 L445.68,634.18 L445.68,634.18 L445.68,637.27 L445.77,637.27 L445.77,637.27 L445.77,640.36 L445.86,640.36 L445.86,640.36 L445.86,643.45 L445.95,643.45 L445.95,643.45 L445.95,646.55 L446.05,646.55 L446.05,646.55 L446.05,649.64 L446.14,649.64 L446.14,649.64 L446.14,652.73 L446.23,652.73 L446.23,652.73 L446.23,655.82 L446.32,655.82 L446.32,655.82 L446.32,658.91 L446.41,658.91 L446.41,658.91 L446.41,662.00 L446.50,662.00 L446.50,662.00 L446.50,665.25 L446.75,665.25 L446.75,665.25 L446.75,668.50 L447.00,668.50 L447.00,668.50 L447.00,671.75 L447.25,671.75 L447.25,671.75 L447.25,675.00 L447.50,675.00 L447.50,675.00 L447.50,678.33 L447.93,678.33 L447.93,678.33 L447.93,681.67 L448.37,681.67 L448.37,681.67 L448.37,685.00 L448.80,685.00 L448.80,685.00 L448.80,688.00 L448.94,688.00 L448.94,688.00 L448.94,691.00 L449.08,691.00 L449.08,691.00 L449.08,694.00 L449.22,694.00 L449.22,694.00 L449.22,697.00 L449.36,697.00 L449.36,697.00 L449.36,700.00 L449.50,700.00 L449.50,700.00 L449.50,703.19 L449.83,703.19 L449.83,703.19 L449.83,706.38 L450.17,706.38 L450.17,706.38 L450.17,709.57 L450.50,709.57 L450.50,709.57 L450.50,712.76 L450.83,712.76 L450.83,712.76 L450.83,715.94 L451.17,715.94 L451.17,715.94 L451.17,719.13 L451.50,719.13 L451.50,719.13 L451.50,722.32 L451.83,722.32 L451.83,722.32 L451.83,725.51 L452.17,725.51 L452.17,725.51 L452.17,728.70 L452.50,728.70 L452.50,728.70 L452.50,731.74 L452.79,731.74 L452.79,731.74 L452.79,734.79 L453.07,734.79 L453.07,734.79 L453.07,737.83 L453.36,737.83 L453.36,737.83 L453.36,740.87 L453.64,740.87 L453.64,740.87 L453.64,743.91 L453.93,743.91 L453.93,743.91 L453.93,746.96 L454.21,746.96 L454.21,746.96 L454.21,750.00 L454.50,750.00 L454.50,750.00 L454.50,752.90 L455.55,752.90 L455.55,752.90 L455.55,755.80 L456.60,755.80 L456.60,755.80 L456.60,759.50 L456.87,759.50 L456.87,759.50 L456.87,763.20 L457.13,763.20 L457.13,763.20 L457.13,766.90 L457.40,766.90 L457.40,766.90 L457.40,770.60 L457.83,770.60 L457.83,770.60 L457.83,774.30 L458.27,774.30 L458.27,774.30 L458.27,778.00 L458.70,778.00 L458.70,778.00 L458.70,781.50 L458.70,781.50 L458.70,781.50 L458.70,785.00 L458.70,785.00 L458.70,785.00 L458.70,788.50 L458.70,788.50 L462.20,788.50 L462.20,794.40 L465.10,794.40 L465.10,810.30 L466.70,810.30 L466.70,816.10 L471.70,816.10 L471.70,822.20 L473.50,822.20 L473.50,834.50 L478.40,834.50 L478.40,840.90 L484.20,840.90 L484.20,847.30 L493.30,847.30 L493.30,856.30 L516.70,856.30" stroke="#F8766D" stroke-width="1.0" fill="none"/>
<path d="M435.60,593.50 L437.50,593.50 L437.50,597.60 L438.30,597.60 L438.30,597.60 L438.30,602.00 L440.50,602.00 L440.50,602.00 L440.50,606.40 L442.30,606.40 L442.30,606.40 L442.30,609.70 L442.65,609.70 L442.65,609.70 L442.65,613.00 L443.00,613.00 L443.00,613.00 L443.00,616.60 L443.15,616.60 L443.15,616.60 L443.15,620.20 L443.30,620.20 L443.30,620.20 L443.30,623.80 L443.45,623.80 L443.45,623.80 L443.45,627.40 L443.60,627.40 L443.60,627.40 L443.60,630.33 L444.00,630.33 L444.00,630.33 L444.00,633.27 L444.40,633.27 L444.40,633.27 L444.40,636.20 L444.80,636.20 L444.80,636.20 L444.80,639.13 L445.20,639.13 L445.20,639.13 L445.20,642.07 L445.60,642.07 L445.60,642.07 L445.60,645.00 L446.00,645.00 L446.00,645.00 L446.00,648.46 L446.30,648.46 L446.30,648.46 L446.30,651.92 L446.60,651.92 L446.60,651.92 L446.60,655.38 L446.90,655.38 L446.90,655.38 L446.90,658.84 L447.20,658.84 L447.20,658.84 L447.20,662.30 L447.50,662.30 L447.50,662.30 L447.50,664.95 L448.40,664.95 L448.40,664.95 L448.40,667.60 L449.30,667.60 L449.30,667.60 L449.30,671.23 L449.73,671.23 L449.73,671.23 L449.73,674.87 L450.17,674.87 L450.17,674.87 L450.17,678.50 L450.60,678.50 L450.60,678.50 L450.60,681.15 L451.05,681.15 L451.05,681.15 L451.05,683.80 L451.50,683.80 L451.50,683.80 L451.50,687.04 L451.50,687.04 L451.50,687.04 L451.50,690.28 L451.50,690.28 L451.50,690.28 L451.50,693.52 L451.50,693.52 L451.50,693.52 L451.50,696.76 L451.50,696.76 L451.50,696.76 L451.50,700.00 L451.50,700.00 L451.50,700.00 L451.50,703.19 L451.72,703.19 L451.72,703.19 L451.72,706.38 L451.94,706.38 L451.94,706.38 L451.94,709.57 L452.17,709.57 L452.17,709.57 L452.17,712.76 L452.39,712.76 L452.39,712.76 L452.39,715.94 L452.61,715.94 L452.61,715.94 L452.61,719.13 L452.83,719.13 L452.83,719.13 L452.83,722.32 L453.06,722.32 L453.06,722.32 L453.06,725.51 L453.28,725.51 L453.28,725.51 L453.28,728.70 L453.50,728.70 L453.50,728.70 L453.50,731.74 L453.77,731.74 L453.77,731.74 L453.77,734.79 L454.04,734.79 L454.04,734.79 L454.04,737.83 L454.31,737.83 L454.31,737.83 L454.31,740.87 L454.59,740.87 L454.59,740.87 L454.59,743.91 L454.86,743.91 L454.86,743.91 L454.86,746.96 L455.13,746.96 L455.13,746.96 L455.13,750.00 L455.40,750.00 L455.40,750.00 L455.40,753.42 L455.55,753.42 L455.55,753.42 L455.55,756.85 L455.70,756.85 L455.70,756.85 L455.70,760.28 L455.85,760.28 L455.85,760.28 L455.85,763.70 L456.00,763.70 L456.00,763.70 L456.00,766.92 L456.08,766.92 L456.08,766.92 L456.08,770.14 L456.16,770.14 L456.16,770.14 L456.16,773.36 L456.24,773.36 L456.24,773.36 L456.24,776.58 L456.32,776.58 L456.32,776.58 L456.32,779.80 L456.40,779.80 L456.40,779.80 L456.40,782.40 L457.00,782.40 L457.00,782.40 L457.00,785.00 L457.60,785.00 L457.60,785.00 L457.60,787.65 L458.00,787.65 L458.00,787.65 L458.00,790.30 L458.40,790.30 L463.60,790.30 L463.60,802.50 L465.50,802.50 L465.50,808.40 L480.50,808.40 L480.50,822.80 L497.30,822.80 L497.30,833.50 L516.70,833.50 L516.70,844.10 L638.70,844.10" stroke="#00BFC4" stroke-width="1.0" fill="none"/>
<line x1="435.30" y1="591.70" x2="435.30" y2="595.30" stroke="#F8766D" stroke-width="1"/>
<line x1="441.00" y1="600.70" x2="441.00" y2="604.30" stroke="#F8766D" stroke-width="1"/>
<line x1="444.50" y1="614.70" x2="444.50" y2="618.30" stroke="#F8766D" stroke-width="1"/>
<line x1="445.00" y1="619.90" x2="445.00" y2="623.50" stroke="#F8766D" stroke-width="1"/>
<line x1="446.50" y1="660.50" x2="446.50" y2="664.10" stroke="#F8766D" stroke-width="1"/>
<line x1="449.40" y1="693.40" x2="449.40" y2="697.00" stroke="#F8766D" stroke-width="1"/>
<line x1="490.60" y1="845.50" x2="490.60" y2="849.10" stroke="#F8766D" stroke-width="1"/>
<line x1="516.70" y1="854.50" x2="516.70" y2="858.10" stroke="#F8766D" stroke-width="1"/>
<line x1="466.00" y1="811.20" x2="466.00" y2="814.80" stroke="#F8766D" stroke-width="1"/>
<line x1="440.00" y1="600.20" x2="440.00" y2="603.80" stroke="#00BFC4" stroke-width="1"/>
<line x1="442.30" y1="608.20" x2="442.30" y2="611.80" stroke="#00BFC4" stroke-width="1"/>
<line x1="443.20" y1="618.20" x2="443.20" y2="621.80" stroke="#00BFC4" stroke-width="1"/>
<line x1="443.50" y1="622.70" x2="443.50" y2="626.30" stroke="#00BFC4" stroke-width="1"/>
<line x1="447.50" y1="660.50" x2="447.50" y2="664.10" stroke="#00BFC4" stroke-width="1"/>
<line x1="463.60" y1="788.50" x2="463.60" y2="792.10" stroke="#00BFC4" stroke-width="1"/>
<line x1="469.60" y1="806.60" x2="469.60" y2="810.20" stroke="#00BFC4" stroke-width="1"/>
<line x1="485.60" y1="821.00" x2="485.60" y2="824.60" stroke="#00BFC4" stroke-width="1"/>
<line x1="493.50" y1="821.00" x2="493.50" y2="824.60" stroke="#00BFC4" stroke-width="1"/>
<line x1="533.30" y1="842.30" x2="533.30" y2="845.90" stroke="#00BFC4" stroke-width="1"/>
<line x1="638.70" y1="842.30" x2="638.70" y2="845.90" stroke="#00BFC4" stroke-width="1"/>
<line x1="446.50" y1="646.20" x2="446.50" y2="649.80" stroke="#00BFC4" stroke-width="1"/>
</svg>
</body></html>
